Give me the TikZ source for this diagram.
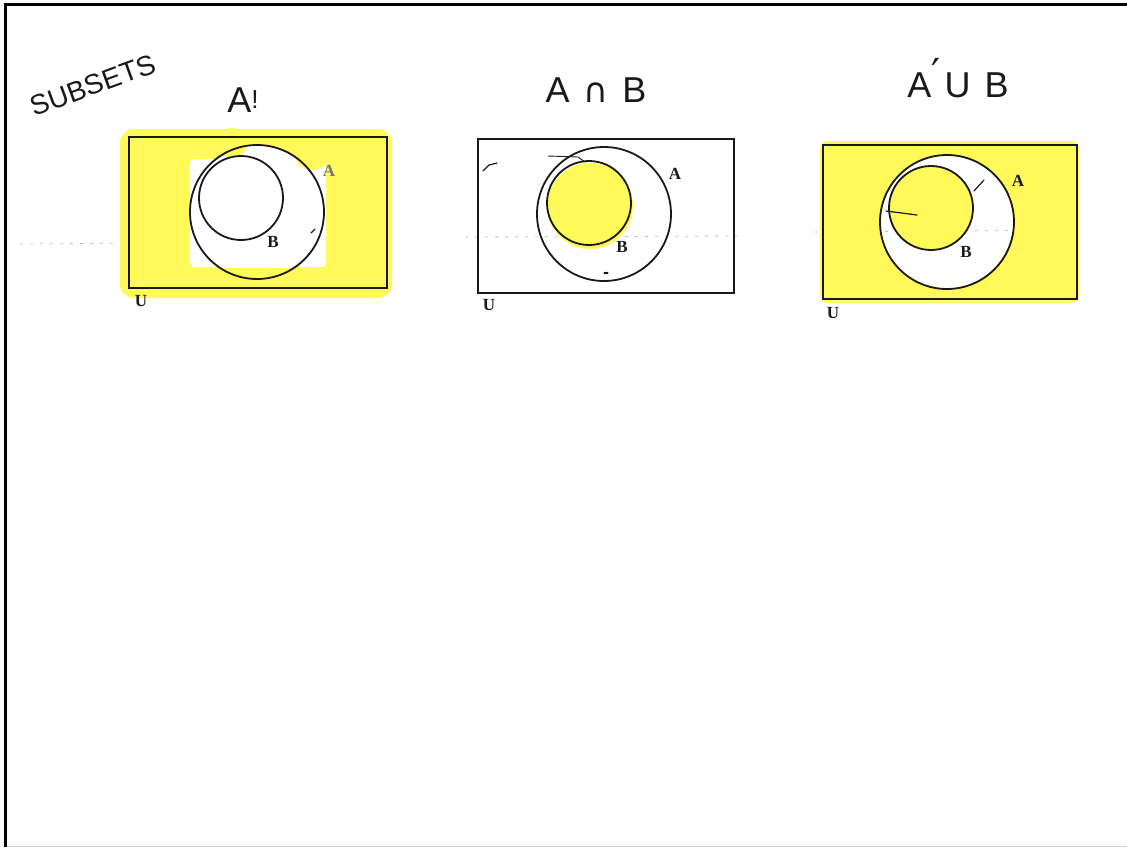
\documentclass[tikz,border=0pt]{standalone}
\usepackage{fontspec}
\setmainfont{Liberation Serif}
\newfontfamily\hand{Liberation Sans}
\newfontfamily\symf{DejaVu Sans}
\definecolor{hl}{RGB}{255,250,90}
\definecolor{ink}{RGB}{25,25,25}
\tikzset{
  ubox/.style={draw=ink, line width=1.8pt},
  ring/.style={draw=ink, line width=1.8pt},
  lbl/.style={font=\bfseries\fontsize{17}{17}\selectfont, text=ink, inner sep=0pt},
  ttl/.style={font=\hand\fontsize{36}{36}\selectfont, text=ink, inner sep=0pt},
  scan/.style={draw=gray!50, line width=0.8pt, dash pattern=on 3pt off 7pt},
  penstroke/.style={draw=ink, line width=1.2pt, line cap=round}
}
\begin{document}
\begin{tikzpicture}[x=1pt,y=-1pt]
\useasboundingbox (0,0) rectangle (1127,847);
% page frame
\draw[line width=3pt,black] (5.5,847) -- (5.5,4.5) -- (1127,4.5);
\draw[gray!35,line width=1pt] (7,846) -- (1127,846);

% titles
\node[ttl, rotate=20] (subsets) at (93,85) {\fontsize{28}{28}\selectfont SUBSETS};
\node[ttl] (t1) at (243,100) {A\raisebox{4pt}{\fontsize{26}{26}\selectfont !}};
\node[ttl] (t2) at (596,90) {A\hspace{14pt}{\symf\fontsize{34}{34}\selectfont ∩}\hspace{14pt}B};
\node[ttl] (t3) at (958,78) {A\raisebox{10pt}{\symf\fontsize{40}{40}\selectfont ′}\hspace{4pt}U\hspace{14pt}B};

% scan artefact lines
\draw[scan] (20,244) -- (392,241);
\draw[scan] (465,237) -- (745,236);
\draw[scan] (815,232) -- (1083,230);

% ---------- panel 1: A'
\fill[hl, rounded corners=14pt] (120,129) rectangle (392,298);
\fill[white, rounded corners=4pt] (190,159) rectangle (326,267);
\begin{scope}
  \clip (150,130) rectangle (340,267);
  \fill[white] (257,212) circle (67);
\end{scope}
\fill[hl] (232,143) circle (15);
\fill[hl] (312,152) circle (18);
\draw[ubox] (129,137) rectangle (387,288);
\draw[ring] (257,212) circle (67);
\draw[ring] (241,198) circle (42);
\node[lbl, text=ink!60] (a1) at (329,171) {A};
\node[lbl] (b1) at (273,242) {B};
\node[lbl] (u1) at (141,301) {U};
\draw[penstroke] (311,233) -- (315,229);

% ---------- panel 2: A n B
\fill[hl] (590,206) circle (43);
\draw[ubox] (478,139) rectangle (734,293);
\draw[ring] (604,214) circle (67);
\draw[ring] (589,203) circle (42);
\node[lbl] (a2) at (675,174) {A};
\node[lbl] (b2) at (622,247) {B};
\node[lbl] (u2) at (489,305) {U};
\draw[penstroke] (483,171) -- (489,165) -- (497,163);
\draw[penstroke, line width=0.9pt] (548,156) -- (578,157) -- (585,162);
\fill[ink] (606,273) ellipse (2.5 and 1.2);

% ---------- panel 3: A' u B
\fill[hl, rounded corners=8pt, even odd rule] (820,141) rectangle (1079,303) (947,222) circle (66);
\fill[hl] (931,208) circle (42);
\draw[ubox] (823,145) rectangle (1077,299);
\draw[ring] (947,222) circle (67);
\draw[ring] (931,208) circle (42);
\node[lbl] (a3) at (1018,181) {A};
\node[lbl] (b3) at (966,252) {B};
\node[lbl] (u3) at (833,313) {U};
\draw[penstroke] (886,211) -- (917,215);
\draw[penstroke] (974,191) -- (984,180);
\end{tikzpicture}
\end{document}
